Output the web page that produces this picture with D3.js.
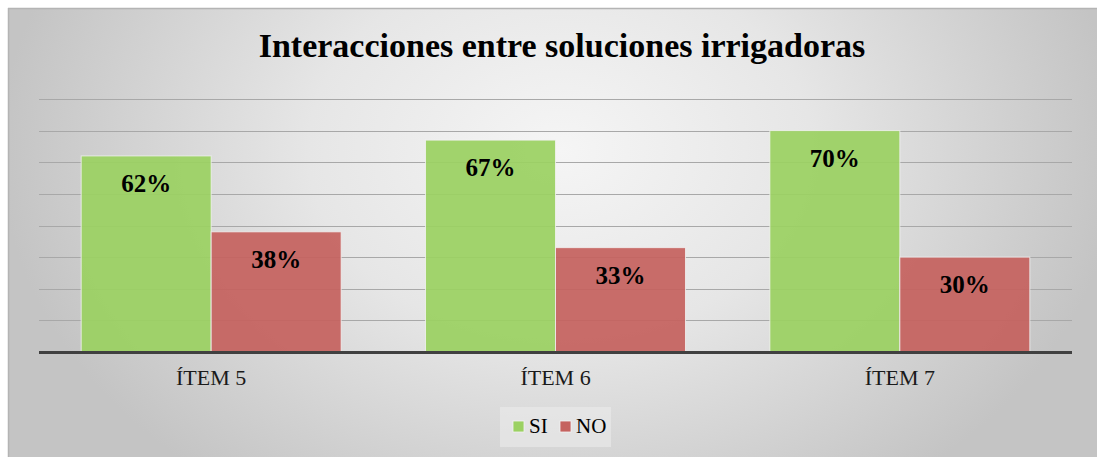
<!DOCTYPE html>
<html>
<head>
<meta charset="utf-8">
<script src="https://cdn.jsdelivr.net/npm/d3@7"></script>
<style>
  html, body { margin: 0; padding: 0; background: #ffffff; }
  svg { display: block; }
  text { font-family: "Liberation Serif", "Times New Roman", Times, serif; }
</style>
</head>
<body>
<svg id="chart" width="1097" height="457"></svg>
<script>
const title = "Interacciones entre soluciones irrigadoras";
const categories = ["ÍTEM 5", "ÍTEM 6", "ÍTEM 7"];
const seriesNames = ["SI", "NO"];
const siValues = [62, 67, 70];
const noValues = [38, 33, 30];
const yTicks = [0, 10, 20, 30, 40, 50, 60, 70, 80];
const seriesColors = ["#9bd162", "#c5625f"];

const FONT = "'Liberation Serif', 'Times New Roman', Times, serif";
const svg = d3.select("#chart");
const W = 1097, H = 457;

// background
const defs = svg.append("defs");
const rg = defs.append("radialGradient").attr("id", "bg")
  .attr("gradientUnits", "userSpaceOnUse")
  .attr("cx", 560).attr("cy", 150).attr("r", 560)
  .attr("gradientTransform", "translate(560,150) scale(1,0.75) translate(-560,-150)");
rg.append("stop").attr("offset", "0").attr("stop-color", "#f5f5f5");
rg.append("stop").attr("offset", "0.45").attr("stop-color", "#e6e6e6");
rg.append("stop").attr("offset", "1").attr("stop-color", "#c4c4c4");

svg.append("rect").attr("x", 8).attr("y", 8).attr("width", W - 8).attr("height", H - 8)
  .attr("fill", "url(#bg)");
svg.append("line").attr("x1", 8).attr("x2", W).attr("y1", 8.5).attr("y2", 8.5)
  .attr("stroke", "#b4b4b4").attr("stroke-width", 1.5);
svg.append("line").attr("x1", 8.5).attr("x2", 8.5).attr("y1", 8).attr("y2", H)
  .attr("stroke", "#b4b4b4").attr("stroke-width", 1.5);

// scales
const plotLeft = 39, plotRight = 1072, plotTop = 99, plotBottom = 352;
const x0 = d3.scaleBand().domain(categories).range([plotLeft, plotRight]).paddingInner(0.245).paddingOuter(0.1225);
const x1 = d3.scaleBand().domain(seriesNames).range([0, x0.bandwidth()]).padding(0);
const y = d3.scaleLinear().domain([0, 80]).range([plotBottom, plotTop]);

const data = categories.map((c, i) => ({ cat: c, values: [
  { s: "SI", v: siValues[i] }, { s: "NO", v: noValues[i] } ] }));

// gridlines
const grid = svg.append("g");
grid.selectAll("line").data(yTicks.filter(t => t > 0)).join("line")
  .attr("x1", plotLeft).attr("x2", plotRight)
  .attr("y1", d => Math.round(y(d)) + 0.5).attr("y2", d => Math.round(y(d)) + 0.5)
  .attr("stroke", "#a8a8a8").attr("stroke-width", 1.2);

// bars
const color = d3.scaleOrdinal().domain(seriesNames).range(seriesColors);
const groups = svg.append("g").selectAll("g").data(data).join("g")
  .attr("transform", d => `translate(${x0(d.cat)},0)`);
groups.selectAll("rect").data(d => d.values).join("rect")
  .attr("x", d => x1(d.s))
  .attr("y", d => y(d.v))
  .attr("width", x1.bandwidth())
  .attr("height", d => y(0) - y(d.v))
  .attr("fill", d => color(d.s))
  .attr("fill-opacity", 0.93)
  .attr("stroke", "#f2f2f2").attr("stroke-opacity", 0.8).attr("stroke-width", 1);

groups.selectAll("text").data(d => d.values).join("text")
  .attr("x", d => x1(d.s) + x1.bandwidth() / 2)
  .attr("y", d => y(d.v) + 36)
  .attr("text-anchor", "middle")
  .style("font-family", FONT)
  .attr("font-weight", "bold")
  .attr("font-size", 25)
  .attr("fill", "#000")
  .text(d => d.v + "%");

// axis line
svg.append("line").attr("x1", plotLeft).attr("x2", plotRight)
  .attr("y1", plotBottom + 0.5).attr("y2", plotBottom + 0.5)
  .attr("stroke", "#404040").attr("stroke-width", 3);

// x axis labels
const xAxis = d3.axisBottom(x0).tickSize(0).tickPadding(0);
const gx = svg.append("g").attr("transform", `translate(0,${plotBottom})`).call(xAxis);
gx.select(".domain").remove();
gx.attr("font-family", null).attr("font-size", null);
gx.selectAll("text")
  .attr("y", 33).attr("dy", null)
  .style("font-family", FONT)
  .attr("font-size", 22).attr("fill", "#1a1a1a");

// title
svg.append("text").attr("x", 562).attr("y", 57)
  .attr("text-anchor", "middle")
  .style("font-family", FONT)
  .attr("font-weight", "bold").attr("font-size", 34)
  .attr("fill", "#000").text(title);

// legend
const lg = svg.append("g");
lg.append("rect").attr("x", 500).attr("y", 407).attr("width", 111).attr("height", 40)
  .attr("fill", "#ebebeb").attr("opacity", 0.6);
const legendX = [513, 560];
seriesNames.forEach((s, i) => {
  lg.append("rect").attr("x", legendX[i]).attr("y", 421).attr("width", 11).attr("height", 11)
    .attr("fill", color(s)).attr("stroke", "#f2f2f2").attr("stroke-width", 0.8);
  lg.append("text").attr("x", legendX[i] + 16).attr("y", 433)
    .style("font-family", FONT)
    .attr("font-size", 21).attr("fill", "#000").text(s);
});
</script>
</body>
</html>
